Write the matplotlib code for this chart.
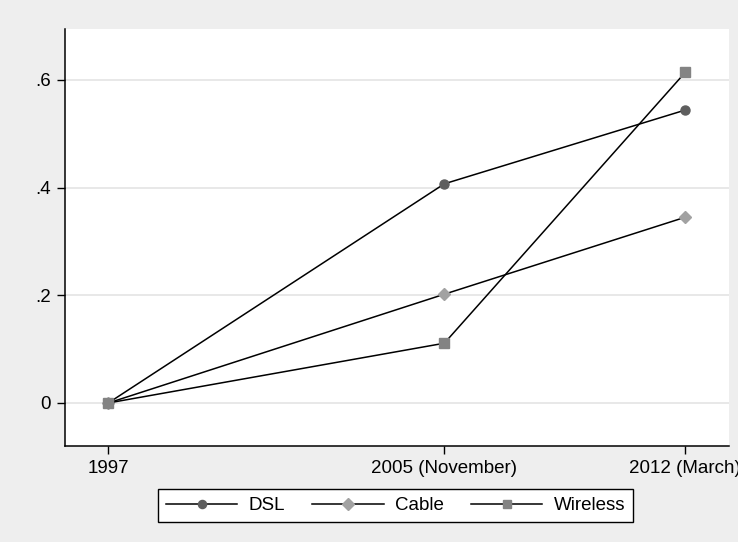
import numpy as np
import matplotlib.pyplot as plt

# survey dates: 1997, November 2005, March 2012
dates = [1997.0, 2005 + 10 / 12.0, 2012 + 2 / 12.0]
date_labels = ['1997', '2005 (November)', '2012 (March)']

dsl = [0.0, 0.407, 0.544]
cable = [0.0, 0.202, 0.345]
wireless = [0.0, 0.111, 0.614]

yticks = [0, 0.2, 0.4, 0.6]
ytick_labels = ['0', '.2', '.4', '.6']

plt.rcParams['font.family'] = ['Liberation Sans', 'DejaVu Sans']

fig = plt.figure(figsize=(7.38, 5.42), dpi=100, facecolor='#eeeeee')
ax = fig.add_axes([0.088, 0.177, 0.9, 0.77])
ax.set_facecolor('white')

series = [
    ('DSL', dsl, 'o', '#5e5e5e', 6.5),
    ('Cable', cable, 'D', '#a2a2a2', 6.5),
    ('Wireless', wireless, 's', '#838383', 6.5),
]
for name, vals, mk, col, ms in series:
    ax.plot(dates, vals, color='black', lw=1.1, marker=mk, ms=ms,
            mfc=col, mec=col, label=name, zorder=3)

for y in yticks:
    ax.axhline(y, color='#e6e6e6', lw=1.3, zorder=1)

ax.set_xlim(1995.86, 2013.32)
ax.set_ylim(-0.08, 0.695)
ax.set_xticks(dates)
ax.set_xticklabels(date_labels)
ax.set_yticks(yticks)
ax.set_yticklabels(ytick_labels)
ax.tick_params(labelsize=13.5, length=6, width=1, color='black', pad=4)

for s in ['top', 'right']:
    ax.spines[s].set_visible(False)
for s in ['left', 'bottom']:
    ax.spines[s].set_linewidth(1.1)

leg = fig.legend(loc='center', bbox_to_anchor=(0.536, 0.067), ncol=3,
                 fontsize=13.5, frameon=True, fancybox=False,
                 handlelength=3.8, handletextpad=0.6, columnspacing=1.45,
                 borderpad=0.42, markerscale=0.9)
leg.get_frame().set_edgecolor('black')
leg.get_frame().set_linewidth(1.0)
leg.get_frame().set_facecolor('white')
leg.get_frame().set_alpha(1)

fig.savefig('out.png', dpi=100, facecolor=fig.get_facecolor())
